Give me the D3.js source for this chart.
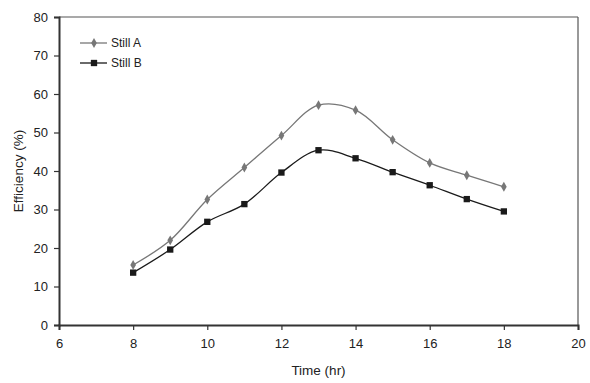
<!DOCTYPE html>
<html>
<head>
<meta charset="utf-8">
<script src="https://d3js.org/d3.v7.min.js"></script>
<style>
  html, body { margin: 0; padding: 0; background: #fff; }
  text { font-family: "Liberation Sans", Arial, sans-serif; fill: #222; }
  .tick text { font-size: 13px; }
  .axisLabel { font-size: 13.5px; }
  .legendText { font-size: 12px; }
</style>
</head>
<body>
<script>
// data
var hours = [8, 9, 10, 11, 12, 13, 14, 15, 16, 17, 18];
var stillA = [15.6, 22.0, 32.6, 40.9, 49.2, 57.1, 55.8, 48.1, 42.1, 38.9, 35.9];
var stillB = [13.6, 19.6, 26.8, 31.4, 39.6, 45.4, 43.3, 39.7, 36.3, 32.7, 29.5];
var seriesNames = ["Still A", "Still B"];
var xTicks = [6, 8, 10, 12, 14, 16, 18, 20];
var yTicks = [0, 10, 20, 30, 40, 50, 60, 70, 80];

var W = 590, H = 383;
var margin = {top: 17, right: 12, bottom: 58, left: 59};
var width = W - margin.left - margin.right,
    height = H - margin.top - margin.bottom;

var svg = d3.select("body").append("svg").attr("width", W).attr("height", H);
var g = svg.append("g").attr("transform", "translate(" + margin.left + "," + margin.top + ")");

var x = d3.scaleLinear().domain([6, 20]).range([0, width]);
var y = d3.scaleLinear().domain([0, 80]).range([height, 0]);

// frame: top and right thinner
g.append("line").attr("x1", 0).attr("x2", width).attr("y1", 0).attr("y2", 0)
  .style("stroke", "#555").style("stroke-width", 1.2);
g.append("line").attr("x1", width).attr("x2", width).attr("y1", 0).attr("y2", height)
  .style("stroke", "#555").style("stroke-width", 1.2);

var xAxis = g.append("g").attr("transform", "translate(0," + height + ")")
  .call(d3.axisBottom(x).tickValues(xTicks).tickSize(5).tickPadding(9));
var yAxis = g.append("g")
  .call(d3.axisLeft(y).tickValues(yTicks).tickSize(5).tickPadding(6));
[xAxis, yAxis].forEach(function(a) {
  a.select(".domain").style("stroke", "#333").style("stroke-width", 2);
  a.selectAll(".tick line").style("stroke", "#333").style("stroke-width", 1.2);
  a.selectAll(".tick text").style("fill", "#222").style("font-family", "'Liberation Sans', Arial, sans-serif");
});

g.append("text").attr("class", "axisLabel")
  .attr("text-anchor", "middle")
  .attr("x", x(13)).attr("y", height + 50)
  .text("Time (hr)");
g.append("text").attr("class", "axisLabel")
  .attr("text-anchor", "middle")
  .attr("transform", "rotate(-90)")
  .attr("x", -height / 2).attr("y", -36)
  .text("Efficiency (%)");

var data = [
  {name: seriesNames[0], values: stillA, color: "#777", symbol: d3.symbolDiamond, size: 28},
  {name: seriesNames[1], values: stillB, color: "#1a1a1a", symbol: d3.symbolSquare, size: 40}
];

var line = d3.line()
  .x(function(d, i) { return x(hours[i]); })
  .y(function(d) { return y(d); })
  .curve(d3.curveCatmullRom.alpha(0.5));

data.forEach(function(s) {
  g.append("path").attr("d", line(s.values))
    .style("fill", "none").style("stroke", s.color).style("stroke-width", 1.3);
  g.selectAll(null).data(s.values).enter().append("path")
    .attr("d", d3.symbol().type(s.symbol).size(s.size))
    .attr("transform", function(d, i) { return "translate(" + x(hours[i]) + "," + y(d) + ")"; })
    .style("fill", s.color);
});

// legend
var legend = g.selectAll(".legend").data(data).enter().append("g")
  .attr("transform", function(d, i) { return "translate(21," + (26 + i * 20) + ")"; });
legend.append("line").attr("x1", 0).attr("x2", 27)
  .style("stroke", function(d) { return d.color; }).style("stroke-width", 1.3);
legend.append("path")
  .attr("d", function(d) { return d3.symbol().type(d.symbol).size(d.size)(); })
  .attr("transform", "translate(14,0)")
  .style("fill", function(d) { return d.color; });
legend.append("text").attr("class", "legendText")
  .attr("x", 31).attr("dy", "0.35em")
  .text(function(d) { return d.name; });
</script>
</body>
</html>
